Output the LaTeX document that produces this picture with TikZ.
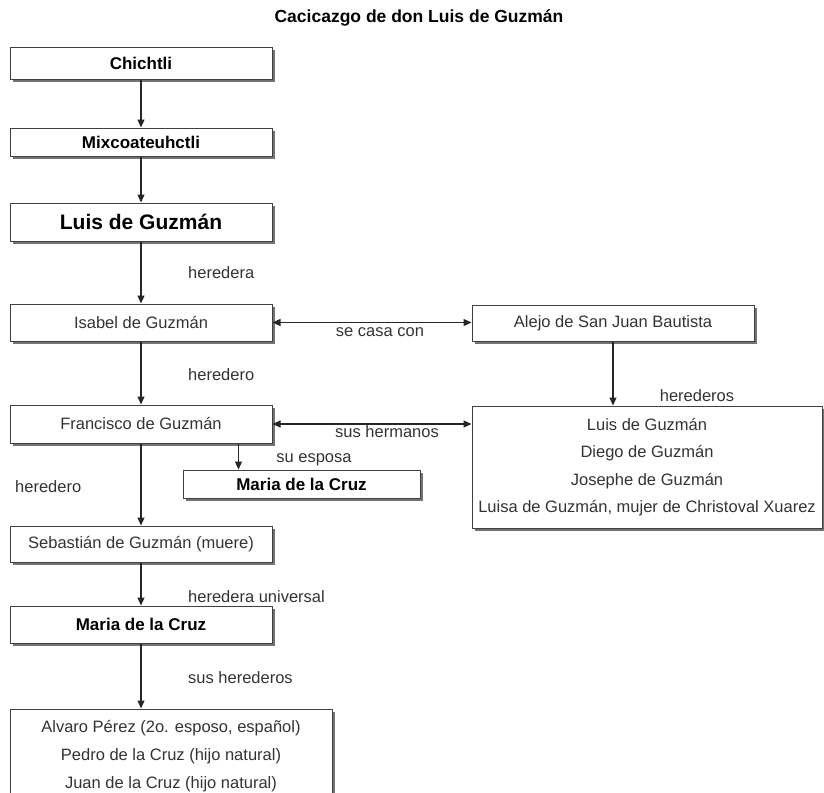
\documentclass[tikz,border=0pt]{standalone}
\usepackage{fontspec}
\setmainfont{Liberation Sans}
\usetikzlibrary{arrows.meta,shadows}

\begin{document}
\begin{tikzpicture}[x=1pt, y=-1pt,
    >={Triangle[length=8pt,width=7pt]},
    box/.style={draw=black!75, line width=1pt, fill=white, inner sep=0pt,
        general shadow={fill=black!55, shadow xshift=2.5pt, shadow yshift=-2.5pt}},
    plain/.style={font=\fontsize{16.5}{20}\selectfont, text=black!80},
    heavy/.style={font=\bfseries\fontsize{17}{20}\selectfont},
    link/.style={->, draw=black!85, line width=1.1pt},
    tag/.style={plain, inner sep=0pt}
]

    % 1. Page frame
    \useasboundingbox (0,0) rectangle (824,792);

    \node[font=\bfseries\fontsize{17.5}{20}\selectfont] (title) at (419,18) {Cacicazgo de don Luis de Guzmán};

    % 2. Main line of descent
    \node[box, heavy, minimum width=262pt, minimum height=31pt] (chichtli) at (141,63.5) {Chichtli};
    \node[box, heavy, minimum width=262pt, minimum height=28pt] (mixco) at (141,142) {Mixcoateuhctli};
    \node[box, font=\bfseries\fontsize{21}{24}\selectfont, minimum width=262pt, minimum height=38pt] (luis) at (141,222) {Luis de Guzmán};
    \node[box, plain, minimum width=262pt, minimum height=37pt] (isabel) at (141,322.5) {Isabel de Guzmán};
    \node[box, plain, minimum width=262pt, minimum height=38pt] (francisco) at (141,424) {Francisco de Guzmán};
    \node[box, plain, minimum width=262pt, minimum height=36pt] (sebastian) at (141,544) {Sebastián de Guzmán (muere)};
    \node[box, heavy, minimum width=262pt, minimum height=37pt] (maria) at (141,624.5) {Maria de la Cruz};
    \node[box, plain, align=center, font=\fontsize{16.5}{28}\selectfont,
          minimum width=322pt, minimum height=94pt] (sucesores) at (171,756)
        {Alvaro Pérez (2o. esposo, español)\\Pedro de la Cruz (hijo natural)\\Juan de la Cruz (hijo natural)};

    % 3. Side branches
    \node[box, plain, minimum width=282pt, minimum height=36pt] (alejo) at (613,323) {Alejo de San Juan Bautista};
    \node[box, plain, align=center, font=\fontsize{16.5}{27.5}\selectfont,
          minimum width=350pt, minimum height=122pt] (hermanos) at (647,467)
        {Luis de Guzmán\\Diego de Guzmán\\Josephe de Guzmán\\Luisa de Guzmán, mujer de Christoval Xuarez};
    \node[box, heavy, minimum width=237pt, minimum height=28pt] (esposa) at (301.5,484) {Maria de la Cruz};
    \coordinate (esposaTop) at ([xshift=56pt]esposa.north west);

    % 4. Connectors
    \draw[link] (chichtli) -- (mixco);
    \draw[link] (mixco) -- (luis);
    \draw[link] (luis) -- (isabel);
    \draw[link] (isabel) -- (francisco);
    \draw[link] (francisco) -- (sebastian);
    \draw[link] (sebastian) -- (maria);
    \draw[link] (maria.south) -- (maria.south |- sucesores.north);
    \draw[link, <->] (isabel.east) -- (isabel.east -| alejo.west);
    \draw[link] (alejo.south) -- (alejo.south |- hermanos.north);
    \draw[link, <->] (francisco.east) -- (francisco.east -| hermanos.west);
    \draw[link] (esposaTop |- francisco.south) -- (esposaTop);

    % 5. Labels
    \node[tag, anchor=west] (lblHeredera) at (188,273) {heredera};
    \node[tag, anchor=west] (lblHeredero) at (188,375) {heredero};
    \node[tag] (lblCasa) at (380,332) {se casa con};
    \node[tag] (lblHerederos) at (697,396) {herederos};
    \node[tag] (lblHermanos) at (387,432) {sus hermanos};
    \node[tag] (lblEsposa) at (314,460) {su esposa};
    \node[tag, anchor=west] (lblHijo) at (15,487) {heredero};
    \node[tag, anchor=west] (lblUniversal) at (188,597) {heredera universal};
    \node[tag, anchor=west] (lblSus) at (188,678) {sus herederos};
\end{tikzpicture}
\end{document}
